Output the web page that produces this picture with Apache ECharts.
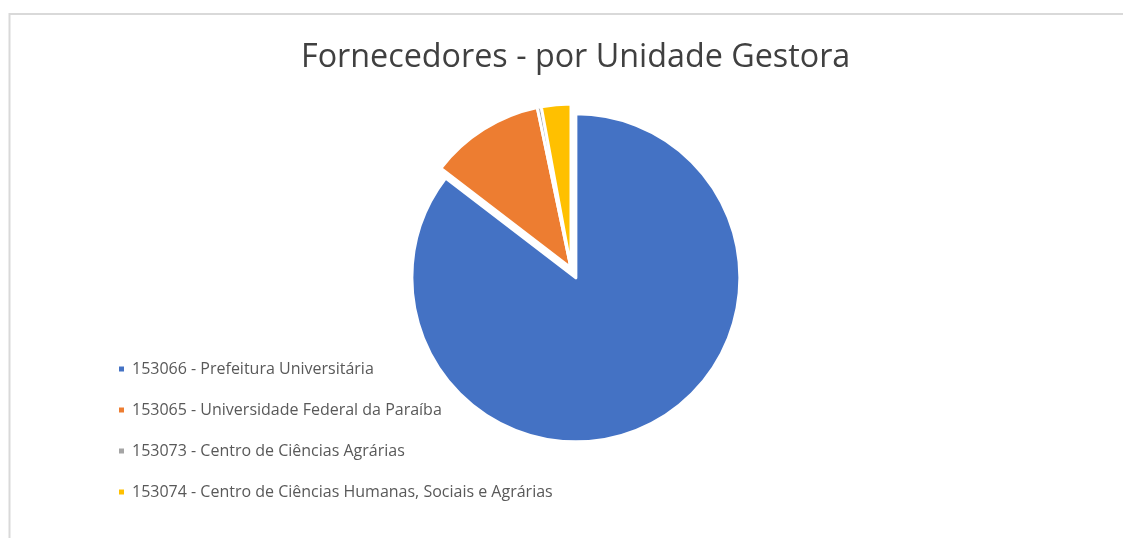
<!DOCTYPE html>
<html>
<head>
<meta charset="utf-8">
<script src="https://cdn.jsdelivr.net/npm/echarts@6/dist/echarts.min.js"></script>
<style>
html,body{margin:0;padding:0;background:#fff;}
#chart{width:1123px;height:538px;}
</style>
</head>
<body>
<div id="chart"></div>
<script>
const titleText = 'Fornecedores - por Unidade Gestora';
const categories = [
  '153066 - Prefeitura Universitária',
  '153065 - Universidade Federal da Paraíba',
  '153073 - Centro de Ciências Agrárias',
  '153074 - Centro de Ciências Humanas, Sociais e Agrárias'
];
const values = [85.4, 11.3, 0.4, 2.9];
const colors = ['#4472C4', '#ED7D31', '#A5A5A5', '#FFC000'];

const chart = echarts.init(document.getElementById('chart'));
chart.setOption({
  animation: false,
  backgroundColor: '#fff',
  graphic: [{
    type: 'rect',
    shape: { x: 9.5, y: 14, width: 1200, height: 600 },
    style: { fill: 'none', stroke: '#d9d9d9', lineWidth: 2 },
    silent: true
  }],
  title: {
    text: titleText,
    left: 301,
    top: 42,
    padding: 0,
    textStyle: {
      fontFamily: 'Open Sans',
      fontSize: 32.3,
      fontWeight: 'normal',
      color: '#404040'
    }
  },
  legend: {
    orient: 'vertical',
    left: 112,
    top: 356,
    itemGap: 25,
    itemWidth: 7,
    itemHeight: 7,
    icon: 'rect',
    selectedMode: false,
    data: categories,
    textStyle: {
      fontFamily: 'Open Sans',
      fontSize: 16,
      lineHeight: 16,
      color: '#595959',
      padding: [0, 0, 0, 2]
    }
  },
  series: [{
    type: 'pie',
    center: [571, 268],
    radius: [0, 164],
    startAngle: 90,
    clockwise: true,
    selectedMode: 'single',
    selectedOffset: 11,
    label: { show: false },
    labelLine: { show: false },
    itemStyle: { borderColor: '#fff', borderWidth: 3 },
    emphasis: { disabled: true },
    data: categories.map((c, i) => ({
      name: c,
      value: values[i],
      selected: i === 0,
      itemStyle: { color: colors[i] }
    }))
  }]
});
</script>
</body>
</html>
